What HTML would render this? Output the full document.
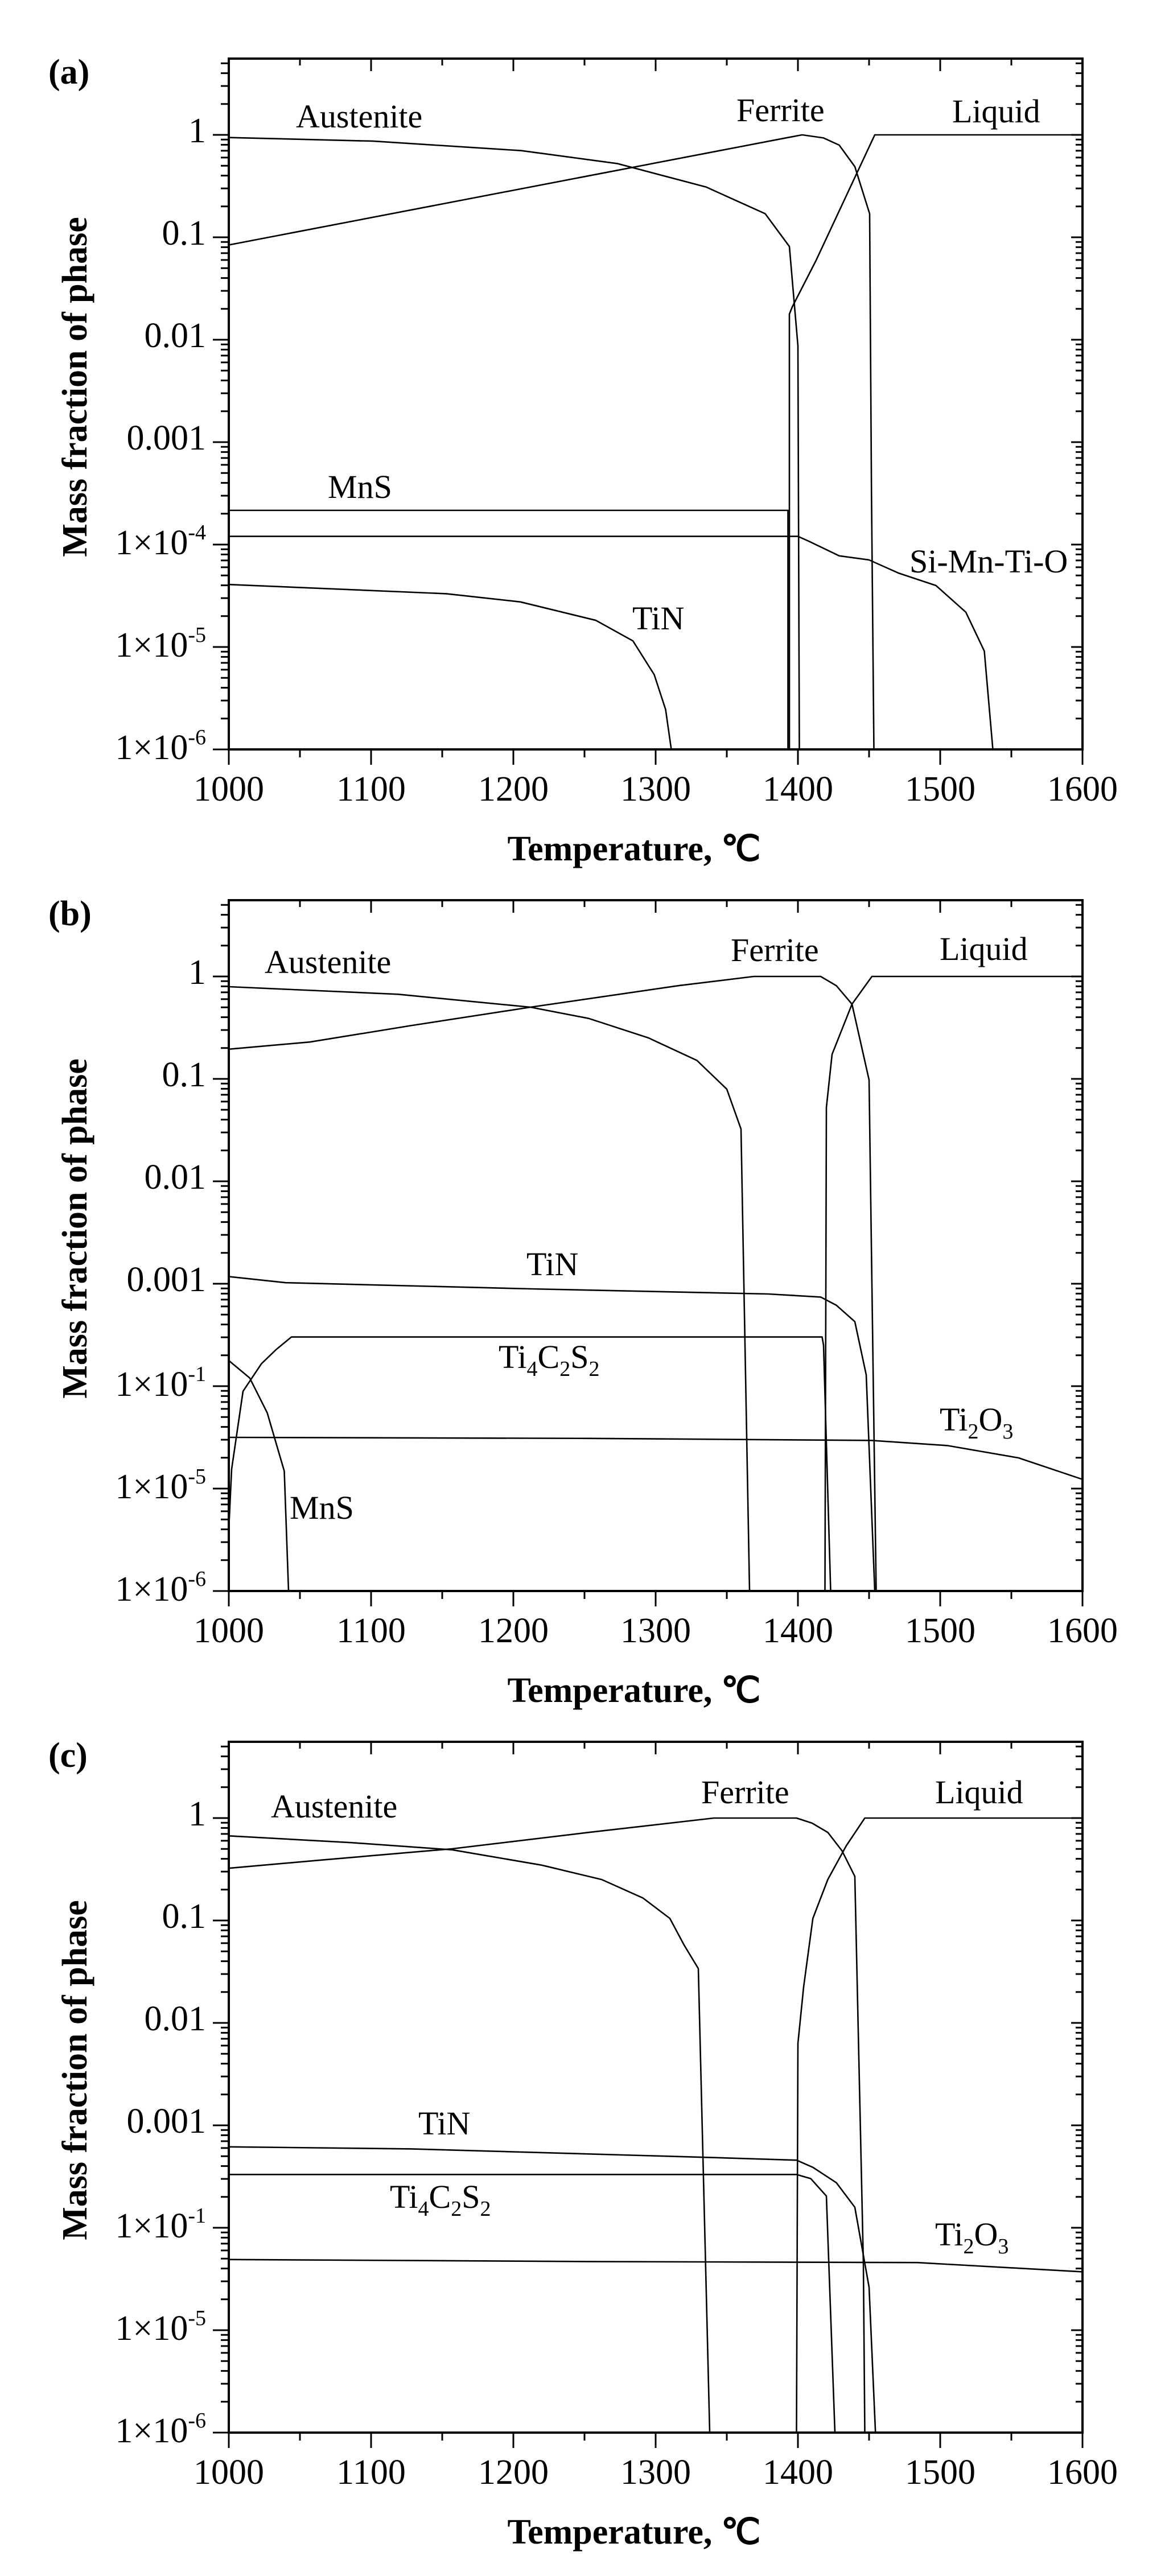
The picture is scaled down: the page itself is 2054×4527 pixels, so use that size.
<!DOCTYPE html>
<html><head><meta charset="utf-8"><style>
html,body{margin:0;padding:0;background:#fff;}
svg{display:block;}
text{font-family:"Liberation Serif",serif;fill:#000;}
.tl{font-size:62px;}
.lb{font-size:58px;}
.b{font-weight:bold;font-size:62px;}
.c{fill:none;stroke:#000;stroke-width:2.6;vector-effect:non-scaling-stroke;stroke-linejoin:round;}
</style></head><body>
<svg width="2054" height="4527" viewBox="0 0 2054 4527" xmlns="http://www.w3.org/2000/svg">
<defs>
<g id="dl" stroke="#000" stroke-width="3">
<path d="M388 -54.2H402M388 -85.9H402M388 -108.4H402M388 -125.8H402M388 -140.1H402M388 -152.1H402M388 -162.6H402M388 -171.8H402M374 0H402"/>
<path d="M1890 -54.2H1902M1890 -85.9H1902M1890 -108.4H1902M1890 -125.8H1902M1890 -140.1H1902M1890 -152.1H1902M1890 -162.6H1902M1890 -171.8H1902M1882 0H1902"/>
</g>
<g id="axes">
<rect x="402" y="103" width="1500" height="1214" fill="none" stroke="#000" stroke-width="4"/>
<use href="#dl" transform="translate(0,417)"/>
<use href="#dl" transform="translate(0,597)"/>
<use href="#dl" transform="translate(0,777)"/>
<use href="#dl" transform="translate(0,957)"/>
<use href="#dl" transform="translate(0,1137)"/>
<use href="#dl" transform="translate(0,1317)"/>
<path stroke="#000" stroke-width="3" d="M374 237H402M388 182.8H402M388 151.1H402M388 128.6H402M388 111.2H402M1882 237H1902M1890 182.8H1902M1890 151.1H1902M1890 128.6H1902M1890 111.2H1902"/>
<path stroke="#000" stroke-width="3" d="M402 1317V1344M652 1317V1344M902 1317V1344M1152 1317V1344M1402 1317V1344M1652 1317V1344M1902 1317V1344M527 1317V1331M777 1317V1331M1027 1317V1331M1277 1317V1331M1527 1317V1331M1777 1317V1331
M652 103V125M902 103V125M1152 103V125M1402 103V125M1652 103V125M527 103V115M777 103V115M1027 103V115M1277 103V115M1527 103V115M1777 103V115"/>
</g>
</defs>

<!-- ========== Panel A ========== -->
<g>
<use href="#axes"/>
<g class="tl" text-anchor="end">
<text x="362" y="250">1</text><text x="362" y="430">0.1</text><text x="362" y="610">0.01</text><text x="362" y="790">0.001</text>
<text x="362" y="974">1×10<tspan font-size="38" dy="-26">-4</tspan></text>
<text x="362" y="1154">1×10<tspan font-size="38" dy="-26">-5</tspan></text>
<text x="362" y="1334">1×10<tspan font-size="38" dy="-26">-6</tspan></text>
</g>
<g class="tl" text-anchor="middle">
<text x="402" y="1407">1000</text><text x="652" y="1407">1100</text><text x="902" y="1407">1200</text><text x="1152" y="1407">1300</text><text x="1402" y="1407">1400</text><text x="1652" y="1407">1500</text><text x="1902" y="1407">1600</text>
</g>
<text class="b" x="1114" y="1512" text-anchor="middle">Temperature, ℃</text>
<text class="b" x="85" y="147">(a)</text>
<text class="b" transform="translate(152,680) rotate(-90)" text-anchor="middle">Mass fraction of phase</text>
<g class="lb">
<text x="520" y="224">Austenite</text><text x="1294" y="213">Ferrite</text><text x="1673" y="215">Liquid</text>
<text x="576" y="875">MnS</text><text x="1598" y="1006">Si-Mn-Ti-O</text><text x="1111" y="1106">TiN</text>
</g>
<g transform="translate(402,237) scale(2.5,-180) translate(-1000,0)">
<polyline class="c" points="1000,-0.026 1101,-0.061 1205.5,-0.154 1273,-0.28 1335.6,-0.51 1377,-0.77 1394,-1.09 1400,-2.06 1401,-6"/>
<polyline class="c" points="1000,-1.075 1393,-0.026 1403,0 1418,-0.03 1429,-0.10 1440,-0.31 1450.4,-0.77 1451.7,-3.5 1453.4,-6"/>
<polyline class="c" points="1394,-6 1394,-1.75 1396,-1.68 1412.6,-1.23 1454,0 1600,0"/>
<polyline class="c" points="1000,-3.666 1393,-3.666 1393,-6"/>
<polyline class="c" points="1000,-3.92 1400,-3.92 1408,-3.97 1429,-4.11 1450,-4.15 1471,-4.28 1497,-4.40 1518,-4.66 1531,-5.04 1537,-6"/>
<polyline class="c" points="1000,-4.39 1153,-4.48 1205,-4.56 1258,-4.74 1284,-4.94 1299,-5.27 1307,-5.61 1311,-6"/>
</g>
</g>

<!-- ========== Panel B ========== -->
<g transform="translate(0,1479)">
<use href="#axes"/>
<g class="tl" text-anchor="end">
<text x="362" y="250">1</text><text x="362" y="430">0.1</text><text x="362" y="610">0.01</text><text x="362" y="790">0.001</text>
<text x="362" y="974">1×10<tspan font-size="38" dy="-26">-1</tspan></text>
<text x="362" y="1154">1×10<tspan font-size="38" dy="-26">-5</tspan></text>
<text x="362" y="1334">1×10<tspan font-size="38" dy="-26">-6</tspan></text>
</g>
<g class="tl" text-anchor="middle">
<text x="402" y="1407">1000</text><text x="652" y="1407">1100</text><text x="902" y="1407">1200</text><text x="1152" y="1407">1300</text><text x="1402" y="1407">1400</text><text x="1652" y="1407">1500</text><text x="1902" y="1407">1600</text>
</g>
<text class="b" x="1114" y="1512" text-anchor="middle">Temperature, ℃</text>
<text class="b" x="85" y="147">(b)</text>
<text class="b" transform="translate(152,680) rotate(-90)" text-anchor="middle">Mass fraction of phase</text>
<g class="lb">
<text x="465" y="231">Austenite</text><text x="1284" y="210">Ferrite</text><text x="1651" y="208">Liquid</text>
<text x="925" y="762">TiN</text>
<text x="876" y="925">Ti<tspan font-size="38" dy="14">4</tspan><tspan dy="-14">C</tspan><tspan font-size="38" dy="14">2</tspan><tspan dy="-14">S</tspan><tspan font-size="38" dy="14">2</tspan></text>
<text x="1651" y="1035">Ti<tspan font-size="38" dy="14">2</tspan><tspan dy="-14">O</tspan><tspan font-size="38" dy="14">3</tspan></text>
<text x="509" y="1190">MnS</text>
</g>
<g transform="translate(402,237) scale(2.5,-180) translate(-1000,0)">
<polyline class="c" points="1000,-0.10 1119,-0.174 1212,-0.30 1253,-0.41 1295,-0.60 1329,-0.82 1350,-1.10 1360,-1.49 1366,-6"/>
<polyline class="c" points="1000,-0.71 1057,-0.64 1128,-0.48 1212,-0.30 1316,-0.09 1369,0 1416,0 1427,-0.09 1438,-0.27 1450,-1.01 1455,-6"/>
<polyline class="c" points="1419,-6 1420,-1.28 1424,-0.76 1438,-0.27 1452,0 1600,0"/>
<polyline class="c" points="1000,-2.93 1040,-2.99 1212,-3.05 1379,-3.10 1416,-3.13 1427,-3.21 1440,-3.37 1448,-3.89 1454,-6"/>
<polyline class="c" points="1000,-5.4 1002,-4.81 1010,-4.05 1023,-3.78 1033.5,-3.64 1044,-3.52 1417,-3.52 1418,-3.60 1423,-6"/>
<polyline class="c" points="1000,-3.75 1014.7,-3.92 1027,-4.26 1039,-4.83 1042,-6"/>
<polyline class="c" points="1000,-4.50 1253,-4.51 1452,-4.53 1505,-4.58 1555,-4.70 1600,-4.91"/>
</g>
</g>

<!-- ========== Panel C ========== -->
<g transform="translate(0,2958)">
<use href="#axes"/>
<g class="tl" text-anchor="end">
<text x="362" y="250">1</text><text x="362" y="430">0.1</text><text x="362" y="610">0.01</text><text x="362" y="790">0.001</text>
<text x="362" y="974">1×10<tspan font-size="38" dy="-26">-1</tspan></text>
<text x="362" y="1154">1×10<tspan font-size="38" dy="-26">-5</tspan></text>
<text x="362" y="1334">1×10<tspan font-size="38" dy="-26">-6</tspan></text>
</g>
<g class="tl" text-anchor="middle">
<text x="402" y="1407">1000</text><text x="652" y="1407">1100</text><text x="902" y="1407">1200</text><text x="1152" y="1407">1300</text><text x="1402" y="1407">1400</text><text x="1652" y="1407">1500</text><text x="1902" y="1407">1600</text>
</g>
<text class="b" x="1114" y="1512" text-anchor="middle">Temperature, ℃</text>
<text class="b" x="85" y="147">(c)</text>
<text class="b" transform="translate(152,680) rotate(-90)" text-anchor="middle">Mass fraction of phase</text>
<g class="lb">
<text x="476" y="236">Austenite</text><text x="1232" y="211">Ferrite</text><text x="1643" y="211">Liquid</text>
<text x="735" y="793">TiN</text>
<text x="685" y="922">Ti<tspan font-size="38" dy="14">4</tspan><tspan dy="-14">C</tspan><tspan font-size="38" dy="14">2</tspan><tspan dy="-14">S</tspan><tspan font-size="38" dy="14">2</tspan></text>
<text x="1643" y="988">Ti<tspan font-size="38" dy="14">2</tspan><tspan dy="-14">O</tspan><tspan font-size="38" dy="14">3</tspan></text>
</g>
<g transform="translate(402,237) scale(2.5,-180) translate(-1000,0)">
<polyline class="c" points="1000,-0.174 1086,-0.24 1157,-0.31 1220,-0.46 1262,-0.60 1291,-0.78 1310,-0.98 1320,-1.24 1330,-1.47 1338,-6"/>
<polyline class="c" points="1000,-0.49 1065,-0.41 1157,-0.30 1253,-0.14 1341,0 1399,0 1410,-0.05 1421,-0.14 1431,-0.32 1440,-0.57 1446,-4.35 1447,-6"/>
<polyline class="c" points="1399,-6 1400,-2.20 1404,-1.65 1410.5,-0.98 1421,-0.60 1434,-0.27 1447,0 1600,0"/>
<polyline class="c" points="1000,-3.21 1128,-3.23 1329,-3.31 1399,-3.34 1410.5,-3.41 1427,-3.56 1440,-3.80 1450,-4.58 1454.5,-6"/>
<polyline class="c" points="1000,-3.48 1399,-3.48 1409,-3.52 1420,-3.69 1426,-6"/>
<polyline class="c" points="1000,-4.31 1253,-4.33 1484,-4.34 1600,-4.43"/>
</g>
</g>
</svg>
</body></html>
